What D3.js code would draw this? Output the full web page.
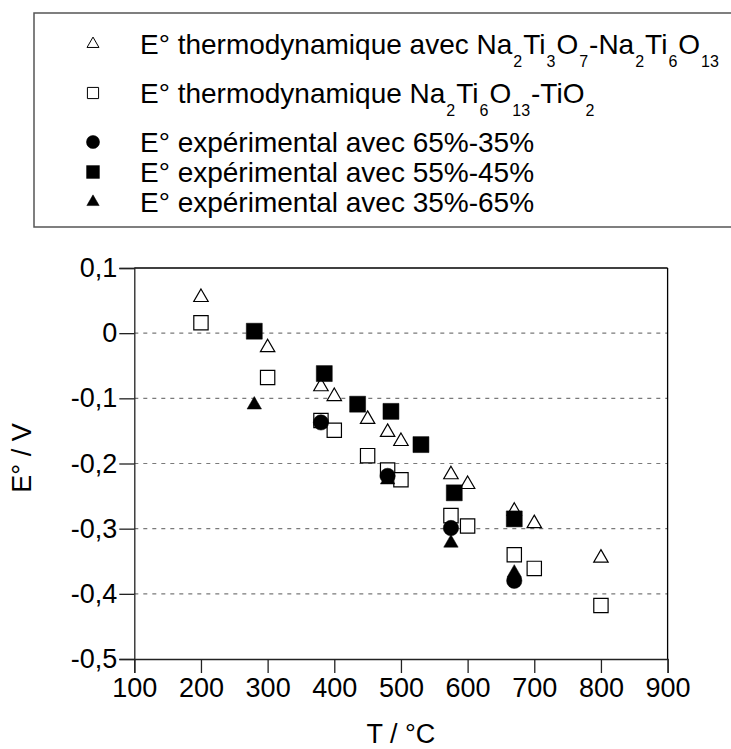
<!DOCTYPE html>
<html>
<head>
<meta charset="utf-8">
<script src="https://cdn.jsdelivr.net/npm/d3@7"></script>
<style>
  html, body { margin: 0; padding: 0; background: #fff; }
  svg { display: block; font-family: "Liberation Sans", Arial, sans-serif; }
</style>
</head>
<body>
<svg id="chart" width="731" height="749"></svg>
<script>
// ---- data ----
const thermoT = [200, 300, 380, 400, 450, 480, 500, 575, 600, 670, 700, 800];
const thermo1 = [0.055, -0.022, -0.082, -0.097, -0.132, -0.152, -0.166, -0.217, -0.232, -0.273, -0.292, -0.345];
const thermo2 = [0.016, -0.068, -0.134, -0.149, -0.188, -0.210, -0.225, -0.280, -0.296, -0.340, -0.361, -0.418];
const exp65T = [380, 480, 575, 670];
const exp65 = [-0.137, -0.219, -0.299, -0.380];
const exp55T = [280, 385, 435, 485, 530, 580, 670];
const exp55 = [0.003, -0.062, -0.109, -0.120, -0.171, -0.245, -0.285];
const exp35T = [280, 480, 575, 670];
const exp35 = [-0.110, -0.225, -0.322, -0.368];
const xTicks = [100, 200, 300, 400, 500, 600, 700, 800, 900];
const yTicks = [0.1, 0, -0.1, -0.2, -0.3, -0.4, -0.5];
const yTickLabels = ["0,1", "0", "-0,1", "-0,2", "-0,3", "-0,4", "-0,5"];
const legendLabels = [
  "E° thermodynamique avec Na_{2}Ti_{3}O_{7}-Na_{2}Ti_{6}O_{13}",
  "E° thermodynamique Na_{2}Ti_{6}O_{13}-TiO_{2}",
  "E° expérimental avec 65%-35%",
  "E° expérimental avec 55%-45%",
  "E° expérimental avec 35%-65%"
];
const xTitle = "T / °C";
const yTitle = "E° / V";

// ---- styles ----
const series = [
  {T: thermoT, v: thermo1, shape: d3.symbolTriangle, fill: "#fff", size: 90, lsize: 62},
  {T: thermoT, v: thermo2, shape: d3.symbolSquare, fill: "#fff", size: 205, lsize: 125},
  {T: exp65T, v: exp65, shape: d3.symbolCircle, fill: "#000", size: 185, lsize: 135},
  {T: exp55T, v: exp55, shape: d3.symbolSquare, fill: "#000", size: 255, lsize: 165},
  {T: exp35T, v: exp35, shape: d3.symbolTriangle, fill: "#000", size: 90, lsize: 66}
];

const svg = d3.select("#chart");
const x = d3.scaleLinear().domain([100, 900]).range([134.3, 667.6]);
const y = d3.scaleLinear().domain([-0.5, 0.1]).range([659, 268]);

// grid lines
svg.append("g").selectAll("line")
  .data(yTicks.filter(t => t < 0.09 && t > -0.49))
  .join("line")
  .attr("x1", x(100)).attr("x2", x(900))
  .attr("y1", d => y(d)).attr("y2", d => y(d))
  .attr("stroke", "#7a7a7a").attr("stroke-width", 1.2)
  .attr("stroke-dasharray", "4,5");

// frame top & right
svg.append("line").attr("x1", x(100)).attr("x2", x(900))
  .attr("y1", y(0.1)).attr("y2", y(0.1)).attr("stroke", "#000").attr("stroke-width", 1.3);
svg.append("line").attr("x1", x(900)).attr("x2", x(900))
  .attr("y1", y(0.1)).attr("y2", y(-0.5)).attr("stroke", "#000").attr("stroke-width", 1.3);

// axes
const xAxis = d3.axisBottom(x).tickValues(xTicks).tickSize(14).tickPadding(5).tickFormat(d3.format("d"));
const yAxis = d3.axisLeft(y).tickValues(yTicks).tickSize(15).tickPadding(2)
  .tickFormat((d, i) => yTickLabels[i]);

const gx = svg.append("g").attr("transform", `translate(0,${y(-0.5)})`).call(xAxis);
const gy = svg.append("g").attr("transform", `translate(${x(100)},0)`).call(yAxis);
[gx, gy].forEach(g => {
  g.select(".domain").attr("stroke", "#222").attr("stroke-width", 1.3);
  g.selectAll(".tick line").attr("stroke", "#222").attr("stroke-width", 1.3);
  g.selectAll(".tick text").attr("fill", "#000").style("font-size", "27px")
    .style("font-family", '"Liberation Sans", Arial, sans-serif');
});

// titles
svg.append("text").attr("x", x(500)).attr("y", 743).attr("text-anchor", "middle")
  .style("font-size", "27px").text(xTitle);
svg.append("text").attr("transform", "translate(31,458) rotate(-90)").attr("text-anchor", "middle")
  .style("font-size", "27px").text(yTitle);

// points
series.forEach(s => {
  svg.append("g").selectAll("path")
    .data(s.T.map((t, i) => [t, s.v[i]]))
    .join("path")
    .attr("transform", d => `translate(${x(d[0])},${y(d[1])})`)
    .attr("d", d3.symbol().type(s.shape).size(s.size))
    .attr("fill", s.fill).attr("stroke", "#000").attr("stroke-width", s.fill === "#fff" ? 1.2 : 0.5);
});

// legend
const leg = svg.append("g");
leg.append("rect").attr("x", 34).attr("y", 13).attr("width", 760).attr("height", 214)
  .attr("fill", "none").attr("stroke", "#555").attr("stroke-width", 1.5);
const rowY = [44, 93, 142, 172, 202];
legendLabels.forEach((lab, i) => {
  const s = series[i];
  leg.append("path").attr("transform", `translate(93,${rowY[i]})`)
    .attr("d", d3.symbol().type(s.shape).size(s.lsize))
    .attr("fill", s.fill).attr("stroke", "#000").attr("stroke-width", s.fill === "#fff" ? 1 : 0.5);
  const t = leg.append("text").attr("x", 140).attr("y", rowY[i] + 10).style("font-size", "28px");
  const parts = lab.split(/(_\{[^}]*\})/).filter(p => p.length);
  let sub = false;
  parts.forEach(p => {
    if (p.startsWith("_{")) {
      t.append("tspan").attr("dy", 13).attr("dx", 1).style("font-size", "16px").text(p.slice(2, -1));
      sub = true;
    } else {
      t.append("tspan").attr("dy", sub ? -13 : 0).attr("dx", sub ? 1 : 0).text(p);
      sub = false;
    }
  });
});
</script>
</body>
</html>
